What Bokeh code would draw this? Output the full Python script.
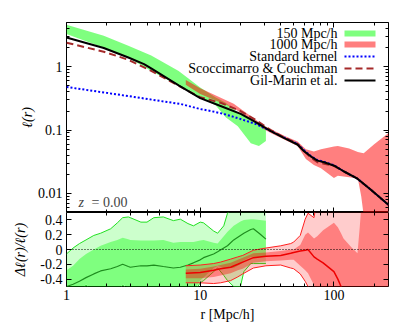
from bokeh.plotting import figure
from bokeh.layouts import column
from bokeh.models import (Range1d, FixedTicker, CustomJSTickFormatter, LogAxis, LinearAxis,
                          Span, Label, BoxAnnotation, Arrow)
from bokeh.embed import file_html
from bokeh.resources import INLINE

# ---------------- data: top panel ----------------
r_box150 = [1, 1.9, 2.9, 4.3, 6.9, 10, 13, 15.5, 19.1, 23.9, 27.5, 31]
l_box150_hi = [4.6, 3.1, 2.15, 1.5, 0.86, 0.47, 0.33, 0.27, 0.19, 0.145, 0.12, 0.1]
l_box150_lo = [3.3, 2.0, 1.39, 0.86, 0.50, 0.32, 0.25, 0.16, 0.115, 0.062, 0.056, 0.067]

r_box1000 = [7.8, 10, 17.8, 29.8, 33.7, 42, 53.5, 61.7, 70.8, 80, 100, 107, 130, 151, 160, 167, 200, 256]
l_box1000_hi = [0.62, 0.46, 0.26, 0.118, 0.104, 0.082, 0.066, 0.05, 0.046, 0.05, 0.055, 0.056, 0.051, 0.045, 0.044, 0.043, 0.06, 0.09]
l_box1000_lo = [0.52, 0.37, 0.223, 0.104, 0.09, 0.072, 0.056, 0.035, 0.028, 0.025, 0.0175, 0.019, 0.018, 0.0172, 0.009, 0.0045, 0.002, 0.001]

r_std = [1, 2, 3.2, 5, 7.1, 10, 12, 15, 20, 26, 30, 33.7, 42.2, 53.3, 59.8, 67.1, 75.3, 84.5, 100.5, 119, 150, 189, 256]
l_std = [0.48, 0.387, 0.334, 0.289, 0.259, 0.215, 0.2, 0.18, 0.15, 0.125, 0.108, 0.097, 0.077, 0.061, 0.048, 0.039, 0.0335, 0.0315, 0.0278, 0.0222, 0.0171, 0.0114, 0.0066]

r_sc = [1, 1.9, 2.9, 4.3, 6.9, 10, 14.2, 20, 26, 33.7, 42.2, 53.3, 59.8, 67.1, 75.3, 84.5, 100.5, 119, 150, 189, 256]
l_sc = [2.4, 1.73, 1.29, 0.86, 0.50, 0.33, 0.27, 0.2, 0.145, 0.1, 0.077, 0.061, 0.047, 0.037, 0.031, 0.0295, 0.027, 0.0222, 0.0171, 0.0114, 0.0066]

r_gm = [1, 1.9, 2.9, 3.8, 4.3, 6.9, 10, 14.2, 20.1, 26, 33.7, 42.2, 53.3, 59.8, 67.1, 75.3, 84.5, 100.5, 119, 150, 189, 256]
l_gm = [2.89, 1.98, 1.40, 1.10, 0.94, 0.51, 0.32, 0.24, 0.18, 0.134, 0.0966, 0.0752, 0.0593, 0.0464, 0.0386, 0.033, 0.031, 0.0274, 0.0222, 0.0171, 0.0114, 0.0066]

# ---------------- data: bottom panel ----------------
r_g = [1, 1.12, 1.25, 1.4, 1.6, 1.8, 2.14, 2.4, 2.63, 2.9, 3.0, 3.6, 4.0, 4.5, 5.3, 6.3,
       7.1, 8.1, 8.9, 10, 10.6, 12.6, 13.5, 15, 16, 17.8, 20, 21.2, 23.9, 25, 28, 31]
g_mean = [-0.5, -0.47, -0.43, -0.38, -0.33, -0.29, -0.26, -0.23, -0.2, -0.23, -0.24, -0.22, -0.22, -0.21, -0.23, -0.25,
          -0.24, -0.21, -0.18, -0.14, -0.11, -0.06, -0.03, 0.02, 0.05, 0.13, 0.19, 0.22, 0.27, 0.28, 0.21, 0.14]
g_in_hi = [-0.28, -0.22, -0.13, -0.06, 0.0, 0.05, 0.1, 0.13, 0.16, 0.14, 0.13, 0.12, 0.12, 0.12, 0.13, 0.09,
           0.1, 0.1, 0.1, 0.12, 0.13, 0.09, 0.08, 0.18, 0.24, 0.32, 0.38, 0.4, 0.41, 0.41, 0.4, 0.39]
g_in_lo = [-0.7, -0.65, -0.6, -0.47, -0.6, -0.65, -0.65, -0.55, -0.47, -0.52, -0.6, -0.65, -0.65, -0.65, -0.65, -0.65,
           -0.62, -0.6, -0.58, -0.42, -0.38, -0.25, -0.22, -0.25, -0.25, -0.25, -0.2, -0.15, -0.1, -0.1, -0.1, -0.1]
g_out_hi = [-0.06, 0.02, 0.08, 0.13, 0.19, 0.22, 0.28, 0.36, 0.43, 0.44, 0.43, 0.37, 0.37, 0.43, 0.44, 0.39,
            0.41, 0.35, 0.32, 0.37, 0.36, 0.25, 0.22, 0.32, 0.49, 0.6, 0.6, 0.6, 0.6, 0.6, 0.6, 0.6]
g_out_lo = [-0.75, -0.7, -0.62, -0.48, -0.62, -0.7, -0.7, -0.6, -0.48, -0.55, -0.62, -0.7, -0.7, -0.7, -0.7, -0.7,
            -0.68, -0.65, -0.6, -0.45, -0.42, -0.3, -0.25, -0.35, -0.42, -0.5, -0.5, -0.3, -0.19, -0.19, -0.19, -0.19]

r_r = [7.8, 10, 12.6, 14.2, 16.9, 19.1, 20.8, 25, 31, 40, 47.5, 50, 56, 61, 64, 71, 75, 83,
       100, 107, 113, 118, 135, 150, 156, 162, 200, 256]
r_mean = [-0.32, -0.31, -0.28, -0.26, -0.24, -0.2, -0.17, -0.11, -0.09, -0.08, -0.05, -0.04, -0.02, -0.01, 0.0, -0.1, -0.13, -0.18,
          -0.3, -0.4, -0.5, -0.6, -0.8, -1.0, -1.0, -1.0, -1.0, -1.0]
r_in_hi = [-0.27, -0.26, -0.23, -0.21, -0.18, -0.14, -0.11, -0.05, -0.04, -0.02, 0.0, 0.0, 0.06, 0.2, 0.23, 0.15, 0.18, 0.26,
           0.36, 0.3, 0.22, 0.15, 0.03, -0.05, 0.3, 0.7, 0.7, 0.7]
r_in_lo = [-0.39, -0.39, -0.37, -0.35, -0.32, -0.28, -0.26, -0.18, -0.16, -0.15, -0.14, -0.14, -0.22, -0.28, -0.32, -0.48, -0.6, -0.8,
           -1.0, -1.0, -1.0, -1.0, -1.0, -1.0, -1.0, -1.0, -1.0, -1.0]
r_out_hi = [-0.22, -0.21, -0.19, -0.17, -0.13, -0.1, -0.08, -0.01, 0.02, 0.05, 0.08, 0.1, 0.19, 0.41, 0.49, 0.43, 0.7, 0.7,
            0.7, 0.7, 0.7, 0.7, 0.7, 0.7, 0.7, 0.7, 0.7, 0.7]
r_out_lo = [-0.45, -0.45, -0.46, -0.45, -0.42, -0.37, -0.33, -0.25, -0.22, -0.21, -0.25, -0.26, -0.33, -0.43, -0.5, -0.7, -1.0, -1.0,
            -1.0, -1.0, -1.0, -1.0, -1.0, -1.0, -1.0, -1.0, -1.0, -1.0]

legend_labels = ["150 Mpc/h", "1000 Mpc/h", "Standard kernel", "Scoccimarro & Couchman", "Gil-Marin et al."]

x_major = [1, 10, 100]
x_minor = [k * 10 ** e for e in (0, 1, 2) for k in range(2, 10) if k * 10 ** e <= 256]
y_major = [0.01, 0.1, 1]
y_minor = [k * 10.0 ** e for e in (-3, -2, -1, 0) for k in range(2, 10) if 0.005 <= k * 10.0 ** e <= 5]
d_major = [-0.4, -0.2, 0, 0.2, 0.4]

FONT = "Liberation Serif"
FS = "14px"

GREEN = "#00ff00"
RED = "#ff0000"

plain_fmt = CustomJSTickFormatter(code="return Math.abs(tick) < 1e-9 ? '0' : String(+tick.toPrecision(3));")
d_fmt = CustomJSTickFormatter(code="return Math.abs(tick) < 1e-9 ? '0' : tick.toFixed(1);")


def style_axis(ax, labels=True):
    ax.major_tick_in = 5
    ax.major_tick_out = 0
    ax.minor_tick_in = 3
    ax.minor_tick_out = 0
    ax.major_tick_line_color = "black"
    ax.minor_tick_line_color = "black"
    ax.axis_line_color = None
    ax.major_label_text_font = FONT
    ax.major_label_text_color = "black"
    if labels:
        ax.major_label_text_font_size = FS
        ax.major_label_standoff = 4
    else:
        ax.major_label_text_font_size = "1px"
        ax.major_label_text_color = None
        ax.major_label_standoff = 0
    ax.axis_label_text_font = FONT
    ax.axis_label_text_font_size = FS
    ax.axis_label_text_color = "black"


# ---------------- top figure ----------------
p1 = figure(width=400, height=212, x_axis_type="log", y_axis_type="log",
            x_range=Range1d(1, 256), y_range=Range1d(0.005, 5),
            output_backend="svg", toolbar_location=None,
            min_border_left=66, min_border_right=12, min_border_top=22, min_border_bottom=0)
p1.grid.visible = False
p1.outline_line_color = "black"
p1.outline_line_width = 1
p1.background_fill_color = "white"
p1.border_fill_color = "white"

p1.varea(x=r_box150, y1=l_box150_lo, y2=l_box150_hi, fill_color=GREEN, fill_alpha=0.5)
p1.varea(x=r_box1000, y1=l_box1000_lo, y2=l_box1000_hi, fill_color=RED, fill_alpha=0.5)
p1.line(r_std, l_std, line_color="#0000ff", line_width=2, line_dash="2 2")
p1.line(r_sc, l_sc, line_color="#a52a2a", line_width=2, line_dash="7 4")
p1.line(r_gm, l_gm, line_color="black", line_width=2)

xa = p1.xaxis[0]
xa.ticker = FixedTicker(ticks=x_major, minor_ticks=x_minor)
style_axis(xa, labels=False)
ya = p1.yaxis[0]
ya.ticker = FixedTicker(ticks=y_major, minor_ticks=y_minor)
ya.formatter = plain_fmt
style_axis(ya)
ya.axis_label = "ℓ(r)"
ya.axis_label_text_font_style = "italic"
ya.axis_label_standoff = 0

top_ax = LogAxis(ticker=FixedTicker(ticks=x_major, minor_ticks=x_minor))
style_axis(top_ax, labels=False)
p1.add_layout(top_ax, "above")
right_ax = LogAxis(ticker=FixedTicker(ticks=y_major, minor_ticks=y_minor))
style_axis(right_ax, labels=False)
p1.add_layout(right_ax, "right")

# legend (text right-aligned, samples to the right)
rows = [179, 168, 156, 144, 132]
for lab, yrow in zip(legend_labels, rows):
    p1.add_layout(Label(x=271, y=yrow, x_units="screen", y_units="screen", text=lab,
                        text_align="right", text_baseline="middle",
                        text_font=FONT, text_font_size=FS, text_color="black"))
p1.add_layout(BoxAnnotation(left=278, right=309, bottom=rows[0] - 3, top=rows[0] + 3,
                            left_units="screen", right_units="screen",
                            bottom_units="screen", top_units="screen",
                            fill_color=GREEN, fill_alpha=0.5, line_color=None))
p1.add_layout(BoxAnnotation(left=278, right=309, bottom=rows[1] - 3, top=rows[1] + 3,
                            left_units="screen", right_units="screen",
                            bottom_units="screen", top_units="screen",
                            fill_color=RED, fill_alpha=0.5, line_color=None))
for yrow, col, dash in [(rows[2], "#0000ff", "2 2"), (rows[3], "#a52a2a", "7 4"), (rows[4], "black", "solid")]:
    p1.add_layout(Arrow(x_start=278, y_start=yrow, x_end=309, y_end=yrow,
                        start_units="screen", end_units="screen", start=None, end=None,
                        line_color=col, line_width=2, line_dash=dash))

p1.add_layout(Label(x=12, y=10, x_units="screen", y_units="screen", text="z",
                    text_baseline="middle", text_font=FONT, text_font_size=FS,
                    text_font_style="italic"))
p1.add_layout(Label(x=25, y=10, x_units="screen", y_units="screen", text="= 0.00",
                    text_baseline="middle", text_font=FONT, text_font_size=FS))

# ---------------- bottom figure ----------------
p2 = figure(width=400, height=112, x_axis_type="log",
            x_range=Range1d(1, 256), y_range=Range1d(-0.5, 0.5),
            output_backend="svg", toolbar_location=None,
            min_border_left=66, min_border_right=12, min_border_top=0, min_border_bottom=38)
p2.grid.visible = False
p2.outline_line_color = "black"
p2.outline_line_width = 1

p2.varea(x=r_g, y1=g_out_lo, y2=g_out_hi, fill_color=GREEN, fill_alpha=0.2)
p2.varea(x=r_g, y1=g_in_lo, y2=g_in_hi, fill_color=GREEN, fill_alpha=0.375)
p2.line(r_g, g_out_hi, line_color="#22e022", line_width=1)
p2.line(r_g, g_out_lo, line_color="#22e022", line_width=1)
p2.line(r_g, g_mean, line_color="#1e8c1e", line_width=1.2)

p2.varea(x=r_r, y1=r_out_lo, y2=r_out_hi, fill_color=RED, fill_alpha=0.2)
p2.varea(x=r_r, y1=r_in_lo, y2=r_in_hi, fill_color=RED, fill_alpha=0.375)
p2.line(r_r, r_out_hi, line_color="#ff2020", line_width=1)
p2.line(r_r, r_out_lo, line_color="#ff2020", line_width=1)
p2.line(r_r, r_mean, line_color="#ee0000", line_width=1.5)

p2.add_layout(Span(location=0, dimension="width", line_color="black", line_width=1, line_dash="1 2"))

xb = p2.xaxis[0]
xb.ticker = FixedTicker(ticks=x_major, minor_ticks=x_minor)
xb.formatter = plain_fmt
style_axis(xb)
xb.major_label_standoff = 3
xb.axis_label = "r [Mpc/h]"
xb.axis_label_text_font_style = "normal"
xb.axis_label_standoff = 4
yb = p2.yaxis[0]
yb.ticker = FixedTicker(ticks=d_major)
yb.formatter = d_fmt
style_axis(yb)
yb.axis_label = "Δℓ(r)/ℓ(r)"
yb.axis_label_text_font_style = "italic"
yb.axis_label_standoff = 9

top_ax2 = LogAxis(ticker=FixedTicker(ticks=x_major, minor_ticks=x_minor))
style_axis(top_ax2, labels=False)
p2.add_layout(top_ax2, "above")
right_ax2 = LinearAxis(ticker=FixedTicker(ticks=d_major))
style_axis(right_ax2, labels=False)
p2.add_layout(right_ax2, "right")

layout = column(p1, p2, spacing=0)
open("out.html", "w").write(file_html(layout, INLINE))
